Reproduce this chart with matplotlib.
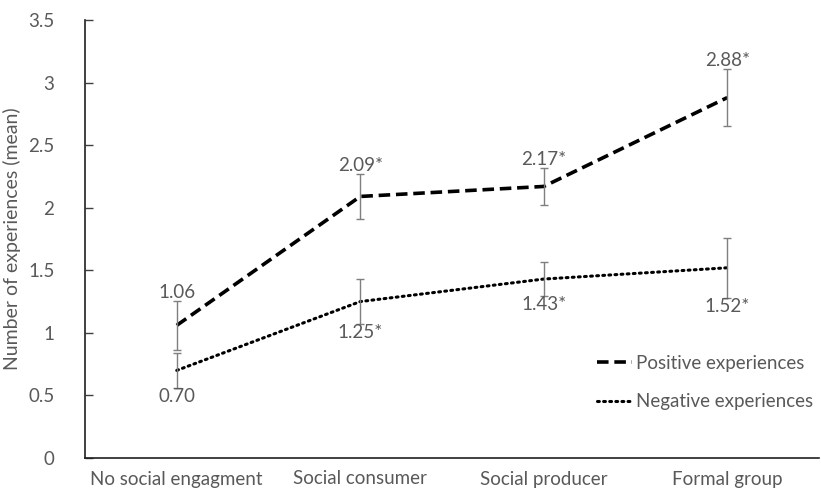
import numpy as np
import matplotlib.pyplot as plt

plt.rcParams['font.family'] = ['Lato', 'DejaVu Sans']

categories = ['No social engagment', 'Social consumer', 'Social producer', 'Formal group']
positive = [1.06, 2.09, 2.17, 2.88]
negative = [0.70, 1.25, 1.43, 1.52]
positive_err = [0.195, 0.18, 0.15, 0.225]
negative_err = [0.14, 0.18, 0.135, 0.24]
positive_labels = ['1.06', '2.09*', '2.17*', '2.88*']
negative_labels = ['0.70', '1.25*', '1.43*', '1.52*']

grey = '#595959'
fs = 13.5
x = np.arange(len(categories))

fig = plt.figure(figsize=(8.21, 4.96), dpi=100)
ax = fig.add_axes([85 / 821, 1 - 458 / 496, 734 / 821, 438 / 496])

ax.plot(x, positive, color='black', lw=2.6, linestyle=(0, (3.2, 1.6)), label='Positive experiences')
ax.plot(x, negative, color='black', lw=2.2, linestyle=(0, (0.6, 1.4)), dash_capstyle='round',
        label='Negative experiences')
ax.errorbar(x, positive, yerr=positive_err, fmt='none', ecolor='#7f7f7f', elinewidth=1, capsize=3, capthick=1)
ax.errorbar(x, negative, yerr=negative_err, fmt='none', ecolor='#7f7f7f', elinewidth=1, capsize=3, capthick=1)

# value labels: positive above the bar, negative below
for xi, v, e, t in zip(x, positive, positive_err, positive_labels):
    ax.text(xi, v + e, t, ha='center', va='bottom', fontsize=fs, color=grey)
for xi, v, e, t in zip(x, negative, negative_err, negative_labels):
    ax.text(xi, v - e, t, ha='center', va='top', fontsize=fs, color=grey)

ax.set_xlim(-0.5, 3.5)
ax.set_ylim(0, 3.5)
ax.set_yticks(np.arange(0, 3.51, 0.5))
ax.set_yticklabels(['0', '0.5', '1', '1.5', '2', '2.5', '3', '3.5'])
ax.set_xticks(x)
ax.set_xticklabels(categories)
ax.tick_params(axis='y', direction='in', length=6, width=1, colors='#404040', labelcolor=grey, labelsize=fs, pad=22)
ax.tick_params(axis='x', length=0, labelcolor=grey, labelsize=fs, pad=9)
ax.set_ylabel('Number of experiences (mean)', color=grey, fontsize=14, labelpad=5)

for s in ['top', 'right']:
    ax.spines[s].set_visible(False)
for s in ['left', 'bottom']:
    ax.spines[s].set_color('#202020')
    ax.spines[s].set_linewidth(1.2)

ax.legend(loc='lower right', bbox_to_anchor=(1.015, 0.07), frameon=False, fontsize=fs, labelcolor=grey,
          handlelength=1.9, handletextpad=0.2, labelspacing=1.15)

fig.savefig('out.png', dpi=100)
